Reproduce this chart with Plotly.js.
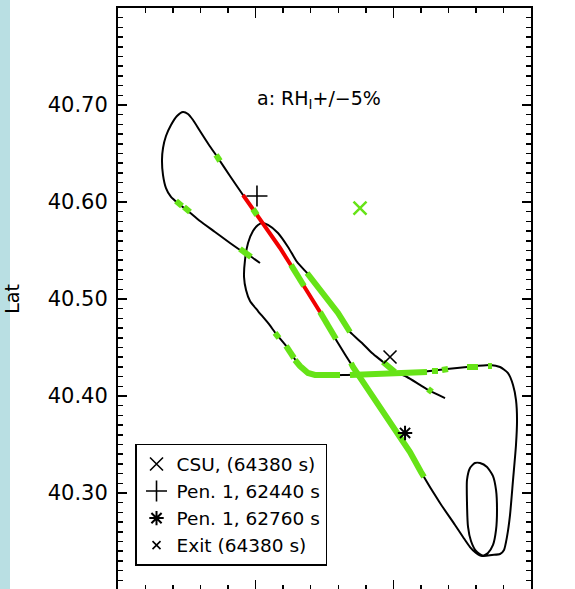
<!DOCTYPE html>
<html>
<head>
<meta charset="utf-8">
<script src="https://cdn.plot.ly/plotly-3.0.1.min.js"></script>
<style>
  html, body { margin: 0; padding: 0; overflow: hidden; background: #fff; }
  #chart { width: 575px; height: 601px; }
</style>
</head>
<body>
<div id="chart"></div>
<script>
// Aircraft track (longitude / latitude), in flight order
const trackLon = [
  -104.7937, -104.8082, -104.8184, -104.8373, -104.8591, -104.8809, -104.8983, -104.9114,
  -104.9230, -104.9303, -104.9346, -104.9361, -104.9346, -104.9303, -104.9230, -104.9143,
  -104.9056, -104.8983, -104.8910, -104.8809, -104.8678, -104.8547, -104.8373, -104.8184,
  -104.8010, -104.7864, -104.7646, -104.7472, -104.7312, -104.7065, -104.6804, -104.6586,
  -104.6383, -104.6194, -104.6048, -104.5903, -104.5758, -104.5598, -104.5322, -104.5104,
  -104.4988, -104.4886, -104.4799, -104.4712, -104.4625, -104.4552, -104.4508, -104.4494,
  -104.4508, -104.4552, -104.4639, -104.4741, -104.4814, -104.4886, -104.4930, -104.4930,
  -104.4915, -104.4872, -104.4799, -104.4697, -104.4567, -104.4450, -104.4392, -104.4349,
  -104.4305, -104.4261, -104.4218, -104.4203, -104.4218, -104.4261, -104.4334, -104.4450,
  -104.4596, -104.4930, -104.5220, -104.5467, -104.5801, -104.6194, -104.6673, -104.7138,
  -104.7240, -104.7356, -104.7472, -104.7545, -104.7690, -104.7821, -104.7966, -104.8082,
  -104.8140, -104.8169, -104.8155, -104.8111, -104.8039, -104.7966, -104.7908, -104.7821,
  -104.7676, -104.7530, -104.7399, -104.7254, -104.6993, -104.6804, -104.6630, -104.6455,
  -104.6310, -104.6150, -104.5976, -104.5801, -104.5613, -104.5467, -104.5249
];
const trackLat = [
  40.5371, 40.5443, 40.5485, 40.5577, 40.5691, 40.5804, 40.5907, 40.5979,
  40.6052, 40.6144, 40.6278, 40.6433, 40.6557, 40.6680, 40.6794, 40.6887,
  40.6928, 40.6907, 40.6845, 40.6732, 40.6588, 40.6454, 40.6268, 40.6072,
  40.5897, 40.5753, 40.5526, 40.5330, 40.5155, 40.4866, 40.4546, 40.4299,
  40.4083, 40.3887, 40.3722, 40.3577, 40.3423, 40.3217, 40.2897, 40.2670,
  40.2547, 40.2443, 40.2382, 40.2351, 40.2382, 40.2464, 40.2619, 40.2825,
  40.3031, 40.3175, 40.3268, 40.3309, 40.3309, 40.3258, 40.3134, 40.2897,
  40.2650, 40.2505, 40.2402, 40.2351, 40.2361, 40.2371, 40.2413, 40.2547,
  40.2773, 40.3134, 40.3495, 40.3753, 40.3959, 40.4114, 40.4237, 40.4299,
  40.4320, 40.4299, 40.4278, 40.4258, 40.4237, 40.4227, 40.4217, 40.4217,
  40.4237, 40.4309, 40.4423, 40.4505, 40.4629, 40.4753, 40.4876, 40.4979,
  40.5093, 40.5227, 40.5402, 40.5577, 40.5701, 40.5763, 40.5784, 40.5763,
  40.5680, 40.5536, 40.5382, 40.5268, 40.5021, 40.4856, 40.4660, 40.4546,
  40.4443, 40.4351, 40.4248, 40.4196, 40.4114, 40.4052, 40.3979
];

// Penetration leg (red)
const penLon = [-104.8184, -104.8010, -104.7864, -104.7646, -104.7472, -104.7312, -104.7065];
const penLat = [40.6072, 40.5897, 40.5753, 40.5526, 40.5330, 40.5155, 40.4866];

// Track pieces where RH_i is within +/-5% (green); null breaks the pieces
const rhLon = [
  -104.8068, -104.8228, null,
  -104.8954, -104.9041, null,
  -104.9070, -104.9157, null,
  -104.8576, -104.8518, null,
  -104.8039, -104.7981, null,
  -104.7487, -104.7341, -104.7298, null,
  -104.7065, -104.6833, null,
  -104.6615, -104.6586, -104.6383, -104.6194, -104.6048, -104.5903, -104.5758, -104.5598, -104.5554, null,
  -104.7254, -104.6993, -104.6804, -104.6630, null,
  -104.6150, -104.5976, null,
  -104.5496, -104.5438, null,
  -104.7719, -104.7661, null,
  -104.7559, -104.7443, null,
  -104.7429, -104.7356, -104.7240, -104.7138, -104.6775, null,
  -104.6630, -104.6194, -104.5801, -104.5511, null,
  -104.5438, -104.5351, null,
  -104.5293, -104.5206, null,
  -104.4930, -104.4770, null,
  -104.4625, -104.4567
];
const rhLat = [
  40.5433, 40.5516, null,
  40.5897, 40.5948, null,
  40.5959, 40.6010, null,
  40.6485, 40.6423, null,
  40.5928, 40.5866, null,
  40.5351, 40.5175, 40.5134, null,
  40.4866, 40.4588, null,
  40.4340, 40.4299, 40.4083, 40.3887, 40.3722, 40.3577, 40.3423, 40.3217, 40.3165, null,
  40.5268, 40.5021, 40.4856, 40.4660, null,
  40.4351, 40.4248, null,
  40.4072, 40.4041, null,
  40.4650, 40.4598, null,
  40.4516, 40.4392, null,
  40.4371, 40.4309, 40.4237, 40.4217, 40.4217, null,
  40.4217, 40.4227, 40.4237, 40.4247, null,
  40.4258, 40.4258, null,
  40.4268, 40.4278, null,
  40.4299, 40.4299, null,
  40.4309, 40.4309
];

// Reference points
const csuLon = [-104.6048], csuLat = [40.4402];
const pen62440Lon = [-104.7981], pen62440Lat = [40.6062];
const pen62760Lon = [-104.5830], pen62760Lat = [40.3619];
const exitLon = [null], exitLat = [null];   // exit point lies outside the mapped area
const stationLon = [-104.6484], stationLat = [40.5938];

// Axis ticks
const latTickVals = [40.3, 40.4, 40.5, 40.6, 40.7];
const latTickText = ['40.30', '40.40', '40.50', '40.60', '40.70'];

const FONT = 'DejaVu Sans, Verdana, sans-serif';
const GREEN = '#66e317';

const traces = [
  { x: trackLon, y: trackLat, mode: 'lines', line: { color: '#000', width: 2, shape: 'spline', smoothing: 0.6 },
    showlegend: false, hoverinfo: 'skip' },
  { x: penLon, y: penLat, mode: 'lines', line: { color: '#f00000', width: 4 }, showlegend: false, hoverinfo: 'skip' },
  { x: rhLon, y: rhLat, mode: 'lines', line: { color: GREEN, width: 6 }, connectgaps: false,
    showlegend: false, hoverinfo: 'skip' },
  { x: stationLon, y: stationLat, mode: 'markers', showlegend: false,
    marker: { symbol: 'x-thin-open', size: 13, color: GREEN, line: { color: GREEN, width: 2.5 } } },
  { x: csuLon, y: csuLat, mode: 'markers', name: 'CSU, (64380 s)',
    marker: { symbol: 'x-thin-open', size: 13, color: '#000', line: { color: '#000', width: 1.6 } } },
  { x: pen62440Lon, y: pen62440Lat, mode: 'markers', name: 'Pen. 1, 62440 s',
    marker: { symbol: 'cross-thin-open', size: 15, color: '#000', line: { color: '#000', width: 1.6 } } },
  { x: pen62760Lon, y: pen62760Lat, mode: 'markers', name: 'Pen. 1, 62760 s',
    marker: { symbol: 'asterisk-open', size: 12, color: '#000', line: { color: '#000', width: 2 } } },
  { x: exitLon, y: exitLat, mode: 'markers', name: 'Exit (64380 s)',
    marker: { symbol: 'x-thin-open', size: 8, color: '#000', line: { color: '#000', width: 1.6 } } }
];

const layout = {
  width: 575, height: 601,
  margin: { l: 118, r: 44, t: 8, b: 11 },
  paper_bgcolor: '#fff', plot_bgcolor: '#fff',
  font: { family: FONT, color: '#000' },
  xaxis: {
    range: [-105.0, -104.4], tickmode: 'linear', tick0: -105.0, dtick: 0.2,
    ticks: 'inside', ticklen: 10, tickwidth: 1.5, tickcolor: '#000',
    minor: { tickmode: 'linear', tick0: -105.0, dtick: 0.04, ticks: 'inside', ticklen: 5, tickwidth: 1.5, tickcolor: '#000' },
    showticklabels: false, showgrid: false, zeroline: false,
    showline: true, linewidth: 2, linecolor: '#000', mirror: 'ticks'
  },
  yaxis: {
    range: [40.2, 40.8], tickmode: 'array', tickvals: latTickVals, ticktext: latTickText,
    ticks: 'inside', ticklen: 9, tickwidth: 1.5, tickcolor: '#000',
    minor: { tickmode: 'linear', tick0: 40.2, dtick: 0.01, ticks: 'inside', ticklen: 5, tickwidth: 1.5, tickcolor: '#000' },
    tickfont: { family: FONT, size: 21, color: '#000' }, ticklabelstandoff: 4,
    showgrid: false, zeroline: false,
    showline: true, linewidth: 2, linecolor: '#000', mirror: 'ticks',
    title: { text: 'Lat', font: { family: FONT, size: 19, color: '#000' }, standoff: 23 }
  },
  legend: {
    x: 0.0412, y: 0.2509, xanchor: 'left', yanchor: 'top',
    bgcolor: '#fff', bordercolor: '#000', borderwidth: 1.5,
    font: { family: FONT, size: 18.5, color: '#000' }, traceorder: 'normal'
  },
  annotations: [
    { xref: 'paper', yref: 'paper', x: 0.3317, y: 0.842, xanchor: 'left', yanchor: 'middle',
      text: 'a: RH<sub>I</sub>+/−5%', showarrow: false, font: { family: FONT, size: 19, color: '#000' } }
  ],
  shapes: [
    { type: 'rect', xref: 'paper', yref: 'paper', x0: -0.2857, x1: -0.2615, y0: -0.05, y1: 1.05,
      fillcolor: '#b9dfe3', line: { width: 0 }, layer: 'below' }
  ]
};

Plotly.newPlot('chart', traces, layout, { displayModeBar: false, staticPlot: true });
</script>
</body>
</html>
